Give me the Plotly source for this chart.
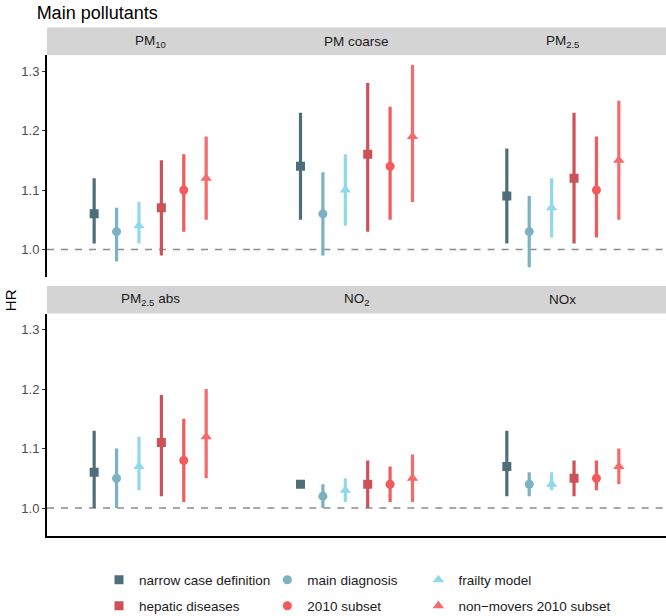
"""
Hazard ratios for main pollutants across sensitivity analyses, ggplot-like facets.
"""

import plotly.graph_objects as go
from plotly.subplots import make_subplots

# --- data -------------------------------------------------------------------
pollutants = ["PM<sub>10</sub>", "PM coarse", "PM<sub>2.5</sub>",
              "PM<sub>2.5</sub> abs", "NO<sub>2</sub>", "NOx"]

analyses = ["narrow case definition", "main diagnosis", "frailty model",
            "hepatic diseases", "2010 subset", "non\u2212movers 2010 subset"]

# one list per analysis, values in pollutant order
hr_narrow = [1.06, 1.14, 1.09, 1.06, 1.04, 1.07]
lo_narrow = [1.01, 1.05, 1.01, 1.00, 1.035, 1.02]
hi_narrow = [1.12, 1.23, 1.17, 1.13, 1.045, 1.13]

hr_main = [1.03, 1.06, 1.03, 1.05, 1.02, 1.04]
lo_main = [0.98, 0.99, 0.97, 1.00, 1.00, 1.02]
hi_main = [1.07, 1.13, 1.09, 1.10, 1.04, 1.06]

hr_frailty = [1.04, 1.10, 1.07, 1.07, 1.03, 1.04]
lo_frailty = [1.01, 1.04, 1.02, 1.03, 1.01, 1.03]
hi_frailty = [1.08, 1.16, 1.12, 1.12, 1.05, 1.06]

hr_hepatic = [1.07, 1.16, 1.12, 1.11, 1.04, 1.05]
lo_hepatic = [0.99, 1.03, 1.01, 1.02, 1.00, 1.02]
hi_hepatic = [1.15, 1.28, 1.23, 1.19, 1.08, 1.08]

hr_2010 = [1.10, 1.14, 1.10, 1.08, 1.04, 1.05]
lo_2010 = [1.03, 1.05, 1.02, 1.01, 1.01, 1.03]
hi_2010 = [1.16, 1.24, 1.19, 1.15, 1.07, 1.08]

hr_nonmov = [1.12, 1.19, 1.15, 1.12, 1.05, 1.07]
lo_nonmov = [1.05, 1.08, 1.05, 1.05, 1.01, 1.04]
hi_nonmov = [1.19, 1.31, 1.25, 1.20, 1.09, 1.10]

y_ticks = [1.0, 1.1, 1.2, 1.3]

# --- styling ------------------------------------------------------------------
series = [
    (hr_narrow, lo_narrow, hi_narrow, "#4E6E7C", "square", 9),
    (hr_main, lo_main, hi_main, "#7CB1C2", "circle", 9),
    (hr_frailty, lo_frailty, hi_frailty, "#8ED9EA", "triangle-up", 10),
    (hr_hepatic, lo_hepatic, hi_hepatic, "#CD5257", "square", 9),
    (hr_2010, lo_2010, hi_2010, "#F25A5C", "circle", 9),
    (hr_nonmov, lo_nonmov, hi_nonmov, "#F56A6A", "triangle-up", 10),
]
FONT = "Liberation Sans, Arial, sans-serif"

fig = make_subplots(rows=2, cols=3, shared_yaxes=True,
                    horizontal_spacing=0, vertical_spacing=0.075)

# legend placement (paper coords): columns x, rows y
leg_x = [0.084, 0.356, 0.6]
leg_y = [-0.0915, -0.1455]

n = len(analyses)
for i, (name, (hr, lo, hi, color, symbol, size)) in enumerate(zip(analyses, series)):
    offset = i - (n - 1) / 2
    legend_id = "legend" if i == 0 else f"legend{i + 1}"
    for p in range(len(pollutants)):
        row, col = p // 3 + 1, p % 3 + 1
        fig.add_trace(
            go.Scatter(
                x=[offset], y=[hr[p]],
                mode="markers",
                name=name,
                legend=legend_id,
                showlegend=(p == 0),
                marker=dict(color=color, symbol=symbol, size=size),
                error_y=dict(type="data", symmetric=False,
                             array=[hi[p] - hr[p]], arrayminus=[hr[p] - lo[p]],
                             color=color, thickness=3.2, width=0),
            ),
            row=row, col=col,
        )

# one small legend per item so the columns line up like ggplot's guide
legends = {}
for i in range(n):
    key = "legend" if i == 0 else f"legend{i + 1}"
    legends[key] = dict(
        x=leg_x[i % 3], y=leg_y[i // 3], xanchor="left", yanchor="middle",
        orientation="v", bgcolor="rgba(0,0,0,0)",
        font=dict(family=FONT, size=13.5, color="#1a1a1a"),
    )

fig.update_xaxes(range=[-4.605, 4.605], showticklabels=False, ticks="",
                 showgrid=False, zeroline=False, showline=False)
fig.update_xaxes(showline=True, linecolor="black", linewidth=2, row=2)
fig.update_yaxes(range=[0.953, 1.327], tickvals=y_ticks, tickformat=".1f",
                 showgrid=False, zeroline=False, showline=False, ticks="")
fig.update_yaxes(showline=True, linecolor="black", linewidth=2,
                 ticks="outside", ticklen=3, tickcolor="#333333", tickwidth=1,
                 tickfont=dict(family=FONT, size=13, color="#4D4D4D"), col=1)

# reference line at HR = 1 in every panel
for p in range(len(pollutants)):
    fig.add_hline(y=1.0, line=dict(color="#8C8C8C", width=1.6, dash="7px,7px"),
                  row=p // 3 + 1, col=p % 3 + 1, layer="below")

# facet strips: one grey band per row, labels centred per panel
top_row, bot_row = fig.layout.yaxis.domain, fig.layout.yaxis4.domain
strip_h = 0.057
for y0 in (top_row[1], bot_row[1]):
    fig.add_shape(type="rect", xref="paper", yref="paper",
                  x0=0, x1=1, y0=y0, y1=y0 + strip_h,
                  fillcolor="#D4D4D4", line=dict(width=0), layer="below")
for p, label in enumerate(pollutants):
    col = p % 3
    y0 = top_row[1] if p < 3 else bot_row[1]
    fig.add_annotation(x=(col + 0.5) / 3, y=y0 + strip_h / 2,
                       xref="paper", yref="paper",
                       xanchor="center", yanchor="middle",
                       text=label, showarrow=False,
                       font=dict(family=FONT, size=13.5, color="#1a1a1a"))

fig.add_annotation(x=-0.06, y=0.49, xref="paper", yref="paper", text="HR",
                   xanchor="center", yanchor="middle",
                   textangle=-90, showarrow=False,
                   font=dict(family=FONT, size=15, color="black"))

fig.update_layout(
    width=666, height=616,
    margin=dict(l=47, r=0, t=55, b=80, autoexpand=False),
    paper_bgcolor="white", plot_bgcolor="white",
    title=dict(text="Main pollutants", x=0.055, xanchor="left",
               y=0.979, yanchor="middle",
               font=dict(family=FONT, size=18, color="black")),
    **legends,
)

fig.write_html("out.html", config={"displayModeBar": False},
               post_script="document.body.style.margin='0';")
